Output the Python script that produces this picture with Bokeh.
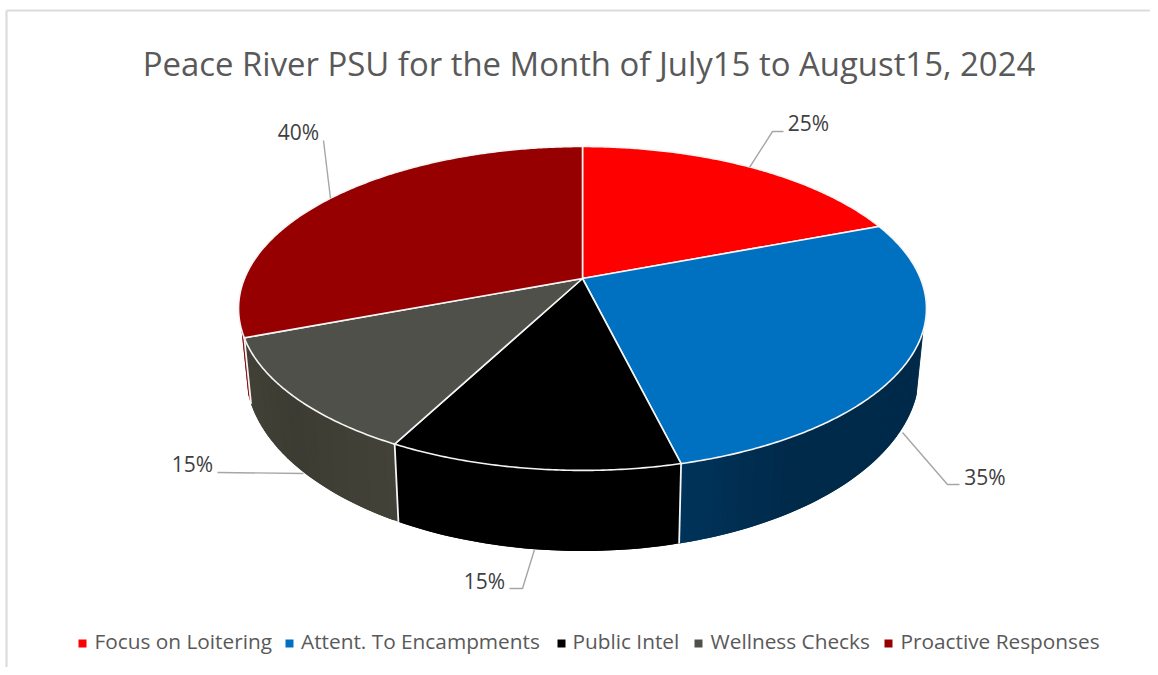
import numpy as np
from bokeh.plotting import figure
from bokeh.models import Range1d
from bokeh.core.properties import value
from bokeh.embed import file_html
from bokeh.resources import INLINE

TITLE = "Peace River PSU for the Month of July15 to August15, 2024"
categories = ["Focus on Loitering", "Attent. To Encampments", "Public Intel", "Wellness Checks", "Proactive Responses"]
values = [25, 35, 15, 15, 40]
labels = ["25%", "35%", "15%", "15%", "40%"]
top_colors = ["#FF0000", "#0070C0", "#000000", "#50504A", "#960000"]
wall_mid = ["#8B0000", "#002A4A", "#000000", "#3C3C33", "#8A0000"]
wall_edge = ["#8B0000", "#00335A", "#000000", "#424238", "#8A0000"]

# layout constants in reference pixels
CX, CY = 582.0, 278.0
A, B, K = 338.0, 156.4, 0.185
WALL_SX, WALL_SY, WALL_D = 0.98, 1.11, 59.5
FONT = "Open Sans"


def top_rim(deg):
    t = np.radians(deg)
    u, v = np.sin(t), np.cos(t)
    d = 1 + K * v
    return A * u / d, B * v / d


def pt_top(deg):
    x, y = top_rim(deg)
    return CX + x, CY - y


def pt_bot(deg):
    x, y = top_rim(deg)
    return CX + x * WALL_SX, CY - (y * WALL_SY - WALL_D)


p = figure(width=1150, height=667, output_backend="svg", toolbar_location=None,
           x_range=Range1d(0, 1150), y_range=Range1d(667, 0), min_border=0,
           x_axis_location=None, y_axis_location=None, outline_line_color=None,
           background_fill_color="white", border_fill_color="white")
p.xgrid.visible = False
p.ygrid.visible = False

# chart frame
p.segment([6, 6], [10, 10], [1150, 6], [10, 667], line_color="#DCDCDC", line_width=2.2)

total = sum(values)
edges = np.concatenate([[0], np.cumsum(values)]) / total * 360.0
WALL_START, WALL_END = 107.9, 252.1

# side walls: each strip overlaps the next so no seams show
wx, wy, wc = [], [], []
for i in range(len(values)):
    a0, a1 = max(edges[i], WALL_START), min(edges[i + 1], WALL_END)
    if a1 <= a0:
        continue
    n = max(2, int((a1 - a0) / 0.8))
    steps = np.linspace(a0, a1, n + 1)
    step = steps[1] - steps[0]
    c0 = np.array([int(wall_edge[i][j:j + 2], 16) for j in (1, 3, 5)], float)
    c1 = np.array([int(wall_mid[i][j:j + 2], 16) for j in (1, 3, 5)], float)
    for s0 in steps[:-1]:
        mid = s0 + step / 2
        if i == 1:
            f = max(0.0, 1 - (a1 - mid) / (0.3 * (a1 - a0)))
        else:
            f = abs(mid - (a0 + a1) / 2) / ((a1 - a0) / 2)
        c = c1 + (c0 - c1) * f
        s1 = min(s0 + 2 * step, a1)
        xa, ya = pt_top(s0); xb, yb = pt_top(s1)
        xc, yc = pt_bot(s1); xd, yd = pt_bot(s0)
        wx.append([xa, xb, xc, xd]); wy.append([ya, yb, yc, yd])
        wc.append("#%02X%02X%02X" % tuple(int(round(q)) for q in c))
p.patches(wx, wy, fill_color=wc, line_color=None)

# white seams between wall sections
for a in edges[1:-1]:
    if WALL_START < a < WALL_END:
        x0, y0 = pt_top(a); x1, y1 = pt_bot(a)
        p.line([x0, x1], [y0, y1], line_color="#F4F4F4", line_width=1.8)

# top faces
tx, ty = [], []
for i in range(len(values)):
    angs = np.arange(edges[i], edges[i + 1], 0.5).tolist() + [edges[i + 1]]
    pts = [pt_top(a) for a in angs]
    tx.append([CX] + [q[0] for q in pts])
    ty.append([CY] + [q[1] for q in pts])
p.patches(tx, ty, fill_color=top_colors, line_color="#F4F4F4", line_width=1.6, line_join="miter")

# leader lines
leaders_x = [[749, 772, 783], [902, 947, 959], [534, 522, 509], [217, 303], [330, 323]]
leaders_y = [[167, 131, 131], [432, 484, 484], [549, 588, 588], [472, 473], [198, 140]]
p.multi_line(leaders_x, leaders_y, line_color="#A6A6A6", line_width=1.4)

# data labels
label_x = [808, 984.5, 484, 192, 298]
label_y = [122, 476, 580, 463, 131]
p.text(label_x, label_y, text=labels, text_font=value(FONT), text_font_size="21px",
       text_color="#404040", text_align="center", text_baseline="middle")

# title
p.text([588.5], [63], text=[TITLE], text_font=value(FONT), text_font_size="32.9px",
       text_color="#595959", text_align="center", text_baseline="middle")

# legend
marker_x = [82, 289, 561, 698, 888]
text_x = [94, 300.5, 572, 710, 900]
p.scatter(marker_x, [643] * 5, marker="square", size=8, fill_color=top_colors, line_color=None)
p.text(text_x, [640] * 5, text=categories, text_font=value(FONT), text_font_size="20.8px",
       text_color="#595959", text_align="left", text_baseline="middle")

open("out.html", "w").write(file_html(p, INLINE))
